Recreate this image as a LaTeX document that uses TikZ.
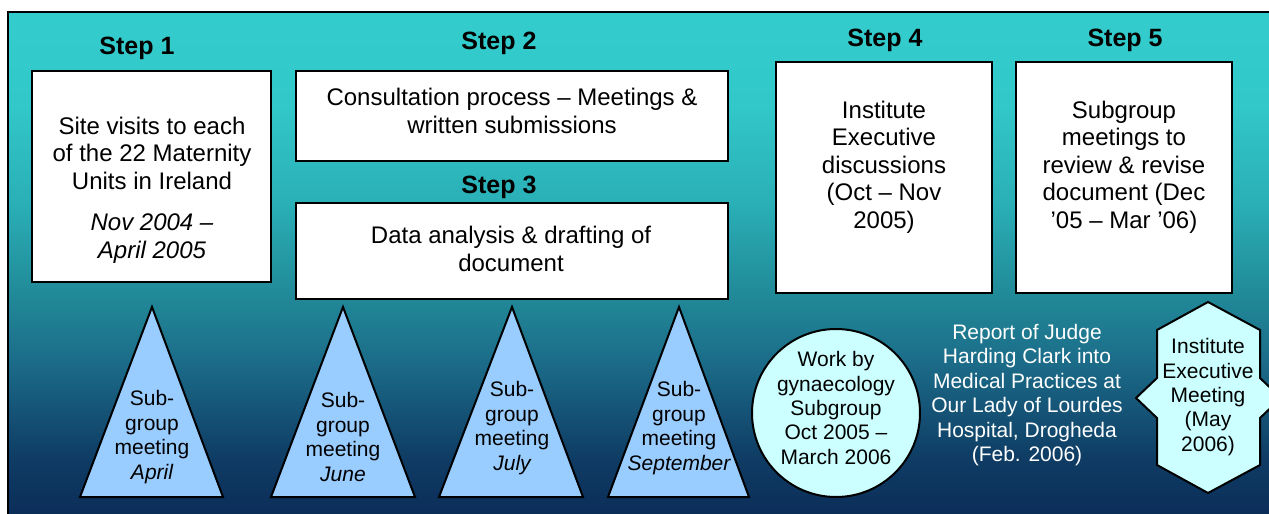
\documentclass[tikz,border=0pt]{standalone}
\usepackage{fontspec}
\setmainfont{Liberation Sans}
\usetikzlibrary{shapes.geometric}
\definecolor{bgA}{RGB}{10,42,86}
\definecolor{bgB}{RGB}{15,60,100}
\definecolor{bgC}{RGB}{28,110,138}
\definecolor{bgD}{RGB}{33,137,152}
\definecolor{bgE}{RGB}{42,175,182}
\definecolor{bgF}{RGB}{50,200,202}
\definecolor{bgG}{RGB}{51,204,204}
\definecolor{trifill}{RGB}{153,204,255}
\definecolor{lightcyan}{RGB}{204,255,255}
\pgfdeclareverticalshading{bgshade}{100bp}{color(0bp)=(bgA); color(25bp)=(bgA); color(31.9bp)=(bgB); color(41.7bp)=(bgC); color(47.6bp)=(bgD); color(56.5bp)=(bgE); color(66.3bp)=(bgF); color(75bp)=(bgG); color(100bp)=(bgG)}
\tikzset{
  boxline/.style={draw=black, line width=2pt, fill=white},
  shapeline/.style={draw=black, line width=2pt, line join=miter},
  steplabel/.style={font=\fontsize{25}{29}\selectfont\bfseries, text=black, inner sep=0pt},
  boxtext/.style={font=\fontsize{24}{27.5}\selectfont, align=center, text=black, inner sep=0pt},
  smalltext/.style={font=\fontsize{21}{24.4}\selectfont, align=center, text=black, inner sep=0pt},
}
\begin{document}
\begin{tikzpicture}[x=1pt,y=-1pt]
\useasboundingbox (0,0) rectangle (1269,514);
\clip (0,0) rectangle (1269,514);
\fill[white] (0,0) rectangle (1269,514);
% background panel
\shade[shading=bgshade] (8,12) rectangle (1290,530);
\draw[line width=2pt] (8,530) -- (8,12) -- (1290,12);

% Step labels
\node[steplabel] (s1) at (137,48) {Step 1};
\node[steplabel] (s2) at (499,43) {Step 2};
\node[steplabel] (s3) at (499,187) {Step 3};
\node[steplabel] (s4) at (885,40) {Step 4};
\node[steplabel] (s5) at (1125,40) {Step 5};

% boxes
\draw[boxline] (32,71) rectangle (271,282);
\draw[boxline] (296,71) rectangle (728,161);
\draw[boxline] (296,203) rectangle (728,299);
\draw[boxline] (776,62) rectangle (992,293);
\draw[boxline] (1016,62) rectangle (1232,293);

\node[boxtext] (b1) at (152,190) {Site visits to each\\of the 22 Maternity\\Units in Ireland\\[14pt]\itshape Nov 2004 --\\\itshape April 2005};
\node[boxtext] (b2) at (512,111) {Consultation process -- Meetings \&\\written submissions};
\node[boxtext] (b3) at (511,249) {Data analysis \& drafting of\\document};
\node[boxtext] (b4) at (884,167) {Institute\\Executive\\discussions\\(Oct -- Nov\\2005)};
\node[boxtext] (b5) at (1124,167) {Subgroup\\meetings to\\review \& revise\\document (Dec\\’05 -- Mar ’06)};

% triangles
\draw[shapeline, fill=trifill] (152,307) -- (223,497) -- (80,497) -- cycle;
\draw[shapeline, fill=trifill] (343,307) -- (415,497) -- (271,497) -- cycle;
\draw[shapeline, fill=trifill] (512,307) -- (583,497) -- (439,497) -- cycle;
\draw[shapeline, fill=trifill] (679,307) -- (749,497) -- (608,497) -- cycle;

\node[smalltext] (t1) at (152,437) {Sub-\\group\\meeting\\\itshape April};
\node[smalltext] (t2) at (343,437) {Sub-\\group\\meeting\\\itshape June};
\node[smalltext] (t3) at (512,428) {Sub-\\group\\meeting\\\itshape July};
\node[smalltext] (t4) at (679,428) {Sub-\\group\\meeting\\\itshape September};

% circle
\draw[shapeline, fill=lightcyan] (836,413) circle (84);
\node[smalltext] (c1) at (836,408) {Work by\\gynaecology\\Subgroup\\Oct 2005 --\\March 2006};

% report text
\node[smalltext, text=white] (r1) at (1027,395) {Report of Judge\\Harding Clark into\\Medical Practices at\\Our Lady of Lourdes\\Hospital, Drogheda\\(Feb. 2006)};

% star
\draw[shapeline, fill=lightcyan] (1208,302) -- (1157,330) -- (1157,378) -- (1136,398) -- (1157,418) -- (1157,465) -- (1208,493) -- (1260,465) -- (1260,418) -- (1281,398) -- (1260,378) -- (1260,330) -- cycle;
\node[smalltext] (st) at (1208,397) {Institute\\Executive\\Meeting\\(May\\2006)};
\end{tikzpicture}
\end{document}
